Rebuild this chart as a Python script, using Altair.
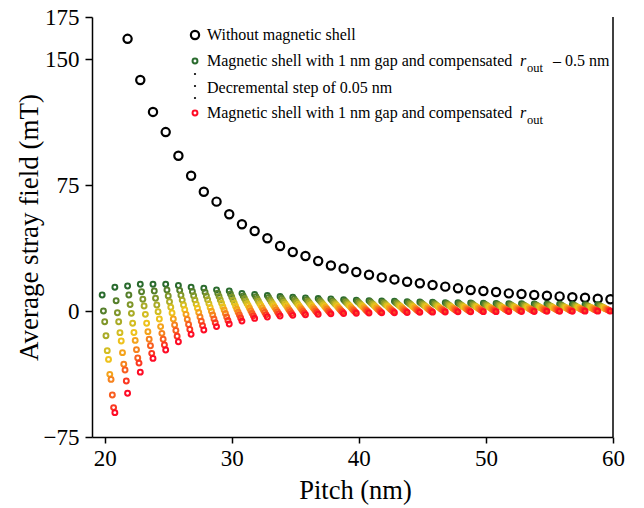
import altair as alt
import pandas as pd

# ---------------- data ----------------
pitch_base = [19.8, 20.8, 21.8, 22.8, 23.8, 24.8, 25.8, 26.8, 27.8, 28.8,
              29.8, 30.8, 31.8, 32.8, 33.8, 34.8, 35.8, 36.8, 37.8, 38.8,
              39.8, 40.8, 41.8, 42.8, 43.8, 44.8, 45.8, 46.8, 47.8, 48.8,
              49.8, 50.8, 51.8, 52.8, 53.8, 54.8, 55.8, 56.8, 57.8, 58.8]
# pitch shift of each shell series (0.05 nm decrement of r_out -> 0.1 nm in pitch)
pitch_shift = [0.0, 0.1, 0.2, 0.3, 0.4, 0.5, 0.6, 0.7, 0.8, 0.9, 1.0]

series_names = ["r_out - 0.50 nm", "r_out - 0.45 nm", "r_out - 0.40 nm", "r_out - 0.35 nm",
                "r_out - 0.30 nm", "r_out - 0.25 nm", "r_out - 0.20 nm", "r_out - 0.15 nm",
                "r_out - 0.10 nm", "r_out - 0.05 nm", "r_out"]
series_colors = ["#2a6b2e", "#557f2b", "#7f962a", "#a9ab27", "#d3bd22", "#eec21d",
                 "#f4a31c", "#f6821e", "#f85e20", "#fb3822", "#fe0c26"]

s0 = [9.5, 14.1, 14.9, 15.9, 15.9, 15.9, 15.2, 14.2, 13.5, 12.6, 11.9, 10.5, 9.8, 9.2, 8.7, 8.2, 7.8, 7.4, 7.1, 6.8,
      6.5, 6.2, 6.0, 5.8, 5.6, 5.4, 5.2, 5.0, 4.9, 4.8, 4.6, 4.5, 4.4, 4.3, 4.2, 4.1, 4.0, 3.9, 3.8, 3.7]
s1 = [0.0, 6.1, 9.5, 11.5, 11.9, 12.5, 12.3, 11.6, 11.2, 10.6, 10.1, 9.0, 8.5, 8.0, 7.6, 7.2, 6.8, 6.5, 6.2, 6.0,
      5.7, 5.5, 5.3, 5.1, 5.0, 4.8, 4.6, 4.5, 4.4, 4.3, 4.1, 4.0, 3.9, 3.8, 3.8, 3.7, 3.6, 3.5, 3.4, 3.3]
s2 = [-6.4, -1.0, 3.8, 7.0, 7.6, 9.0, 9.4, 9.1, 8.9, 8.6, 8.3, 7.5, 7.1, 6.8, 6.4, 6.1, 5.9, 5.6, 5.4, 5.2,
      5.0, 4.7, 4.6, 4.5, 4.3, 4.2, 4.0, 3.9, 3.8, 3.8, 3.6, 3.5, 3.5, 3.4, 3.3, 3.2, 3.2, 3.1, 3.0, 2.9]
s3 = [-14.7, -6.4, -1.4, 3.0, 3.6, 5.5, 6.5, 6.6, 6.7, 6.6, 6.5, 6.0, 5.8, 5.5, 5.3, 5.1, 4.9, 4.7, 4.5, 4.4,
      4.2, 4.0, 3.9, 3.8, 3.7, 3.6, 3.5, 3.4, 3.3, 3.2, 3.1, 3.1, 3.0, 2.9, 2.9, 2.8, 2.7, 2.7, 2.6, 2.6]
s4 = [-23.6, -12.9, -7.3, -2.0, -0.4, 2.2, 3.6, 4.1, 4.4, 4.6, 4.7, 4.5, 4.4, 4.3, 4.2, 4.0, 3.9, 3.8, 3.7, 3.6,
      3.4, 3.3, 3.2, 3.1, 3.0, 3.0, 2.9, 2.8, 2.7, 2.7, 2.6, 2.6, 2.5, 2.5, 2.4, 2.4, 2.3, 2.3, 2.2, 2.2]
s5 = [-28.8, -17.9, -12.8, -7.3, -4.8, -1.2, 0.8, 1.6, 2.1, 2.6, 2.9, 3.1, 3.1, 3.1, 3.1, 3.0, 3.0, 2.9, 2.8, 2.8,
      2.7, 2.6, 2.5, 2.5, 2.4, 2.4, 2.3, 2.3, 2.2, 2.2, 2.1, 2.1, 2.1, 2.0, 2.0, 2.0, 1.9, 1.9, 1.9, 1.8]
s6 = [-37.7, -24.8, -17.5, -12.3, -9.3, -4.8, -2.0, -0.9, -0.1, 0.6, 1.1, 1.6, 1.8, 1.9, 1.9, 2.0, 2.0, 1.9, 1.9, 1.9,
      1.9, 1.8, 1.8, 1.8, 1.8, 1.7, 1.7, 1.7, 1.7, 1.7, 1.6, 1.6, 1.6, 1.5, 1.6, 1.5, 1.5, 1.5, 1.5, 1.4]
s7 = [-40.7, -31.7, -23.0, -16.8, -13.3, -8.3, -5.0, -3.5, -2.4, -1.5, -0.7, 0.1, 0.4, 0.7, 0.8, 0.9, 1.0, 1.0, 1.1, 1.1,
      1.1, 1.1, 1.1, 1.1, 1.1, 1.1, 1.1, 1.2, 1.1, 1.2, 1.1, 1.1, 1.1, 1.1, 1.1, 1.1, 1.1, 1.1, 1.1, 1.0]
s8 = [-50.0, -35.1, -28.0, -20.7, -16.8, -11.6, -8.0, -6.1, -4.7, -3.5, -2.4, -1.4, -0.9, -0.6, -0.3, -0.1, 0.0, 0.1, 0.2, 0.3,
      0.3, 0.4, 0.4, 0.4, 0.5, 0.5, 0.6, 0.6, 0.6, 0.6, 0.6, 0.7, 0.6, 0.6, 0.7, 0.7, 0.6, 0.7, 0.7, 0.7]
s9 = [-57.5, -41.7, -31.0, -25.2, -20.2, -15.0, -11.0, -8.7, -7.0, -5.6, -4.2, -2.9, -2.3, -1.8, -1.5, -1.2, -0.9, -0.8, -0.6, -0.5,
      -0.4, -0.4, -0.3, -0.2, -0.2, -0.1, 0.0, 0.1, 0.0, 0.1, 0.1, 0.2, 0.2, 0.2, 0.2, 0.2, 0.2, 0.3, 0.3, 0.3]
s10 = [-60.5, -49.0, -36.4, -28.2, -23.2, -18.3, -13.9, -11.3, -9.3, -7.7, -6.0, -4.4, -3.6, -3.0, -2.6, -2.2, -1.9, -1.7, -1.5, -1.3,
       -1.2, -1.1, -1.0, -0.9, -0.8, -0.7, -0.6, -0.5, -0.5, -0.4, -0.4, -0.3, -0.3, -0.3, -0.2, -0.2, -0.2, -0.1, -0.1, -0.1]
shell_values = [s0, s1, s2, s3, s4, s5, s6, s7, s8, s9, s10]

black_pitch = [21.8, 22.8, 23.8, 24.8, 25.8, 26.8, 27.8, 28.8, 29.8, 30.8,
               31.8, 32.8, 33.8, 34.8, 35.8, 36.8, 37.8, 38.8, 39.8, 40.8,
               41.8, 42.8, 43.8, 44.8, 45.8, 46.8, 47.8, 48.8, 49.8, 50.8,
               51.8, 52.8, 53.8, 54.8, 55.8, 56.8, 57.8, 58.8, 59.8]
black_field = [162.0, 137.5, 118.5, 106.5, 92.4, 80.5, 71.0, 65.1, 57.6, 51.6,
               47.6, 43.3, 38.7, 35.1, 32.7, 29.8, 27.1, 25.3, 23.2, 21.6,
               20.0, 18.8, 17.4, 16.5, 15.5, 14.5, 13.5, 12.5, 11.9, 11.3,
               10.5, 10.1, 9.5, 9.1, 8.7, 8.2, 7.9, 7.3, 7.0]

x_ticks = [20, 30, 40, 50, 60]
y_ticks = [-75, 0, 75, 150, 175]

# ---------------- tables ----------------
rows = []
for k, vals in enumerate(shell_values):
    assert len(vals) == len(pitch_base), (k, len(vals))
    for n, v in enumerate(vals):
        rows.append({"pitch": round(pitch_base[n] + pitch_shift[k], 2),
                     "field": v, "series": series_names[k], "order": k})
shell_df = pd.DataFrame(rows)
black_df = pd.DataFrame({"pitch": black_pitch, "field": black_field})
one_row = pd.DataFrame({"k": [0]})

FONT = "Liberation Serif"
W, H = 521, 420

x_scale = alt.Scale(domain=[19, 60], nice=False, zero=False)
y_scale = alt.Scale(domain=[-75, 175], nice=False, zero=False)

x_axis = alt.Axis(values=x_ticks, title="Pitch (nm)", grid=False,
                  domainColor="black", domainWidth=1.5, tickColor="black",
                  tickWidth=1.5, tickSize=6, labelFont=FONT, labelFontSize=23,
                  labelColor="black", labelPadding=4, labelFlush=False,
                  titleFont=FONT, titleFontSize=26.5, titleFontWeight="normal",
                  titleColor="black", titleX=263, titleY=61,
                  titleBaseline="alphabetic", titleAlign="center")
y_axis = alt.Axis(values=y_ticks, title="Average stray field (mT)", grid=False,
                  domainColor="black", domainWidth=1.5, tickColor="black",
                  tickWidth=1.5, tickSize=7, labelFont=FONT, labelFontSize=23,
                  labelColor="black", labelPadding=6, labelFlush=False,
                  titleFont=FONT, titleFontSize=27, titleFontWeight="normal",
                  titleColor="black", titleAngle=270, titleX=-55, titleY=210,
                  titleBaseline="alphabetic", titleAlign="center")

black_layer = alt.Chart(black_df).mark_point(
    shape="circle", filled=False, color="black", size=68, strokeWidth=2.2,
    opacity=1, clip=True
).encode(
    x=alt.X("pitch:Q", scale=x_scale, axis=x_axis),
    y=alt.Y("field:Q", scale=y_scale, axis=y_axis),
)

shell_layer = alt.Chart(shell_df).mark_point(
    shape="circle", filled=False, size=24, strokeWidth=2.0, opacity=1, clip=True
).encode(
    x=alt.X("pitch:Q", scale=x_scale),
    y=alt.Y("field:Q", scale=y_scale),
    color=alt.Color("series:N", scale=alt.Scale(domain=series_names, range=series_colors),
                    legend=None),
    order=alt.Order("order:Q"),
)

right_frame = alt.Chart(one_row).mark_rule(color="black", strokeWidth=1.5).encode(
    x=alt.value(W), y=alt.value(0), y2=alt.value(H)
)


def txt(text, x, y, size=16, style="normal", align="left"):
    return alt.Chart(one_row).mark_text(
        text=text, font=FONT, fontSize=size, fontStyle=style, color="black",
        align=align, baseline="alphabetic"
    ).encode(x=alt.value(x), y=alt.value(y))


def marker(x, y, color, size, sw, filled=False):
    return alt.Chart(one_row).mark_point(
        shape="circle", filled=filled, color=color, size=size, strokeWidth=sw, opacity=1
    ).encode(x=alt.value(x), y=alt.value(y))


legend_layers = [
    marker(103, 18, "black", 68, 2.2),
    txt("Without magnetic shell", 115, 23),
    marker(103, 44, series_colors[0], 24, 2.0),
    txt("Magnetic shell with 1 nm gap and compensated", 115, 49),
    txt("r", 428, 49, style="italic"),
    txt("out", 435, 55, size=12.5),
    txt("– 0.5 nm", 461, 49),
    marker(103, 57, "black", 5, 0, True),
    marker(103, 69, "black", 5, 0, True),
    marker(103, 81, "black", 5, 0, True),
    txt("Decremental step of 0.05 nm", 115, 76),
    marker(103, 96, series_colors[-1], 24, 2.0),
    txt("Magnetic shell with 1 nm gap and compensated", 115, 101),
    txt("r", 428, 101, style="italic"),
    txt("out", 435, 107, size=12.5),
]

chart = alt.layer(black_layer, shell_layer, right_frame, *legend_layers).properties(
    width=W, height=H,
    autosize=alt.AutoSizeParams(type="none"),
    padding={"left": 92, "top": 17, "right": 31, "bottom": 71},
    background="white",
).configure_view(stroke=None)

chart.save("out.html", embed_options={"renderer": "svg", "actions": False})
